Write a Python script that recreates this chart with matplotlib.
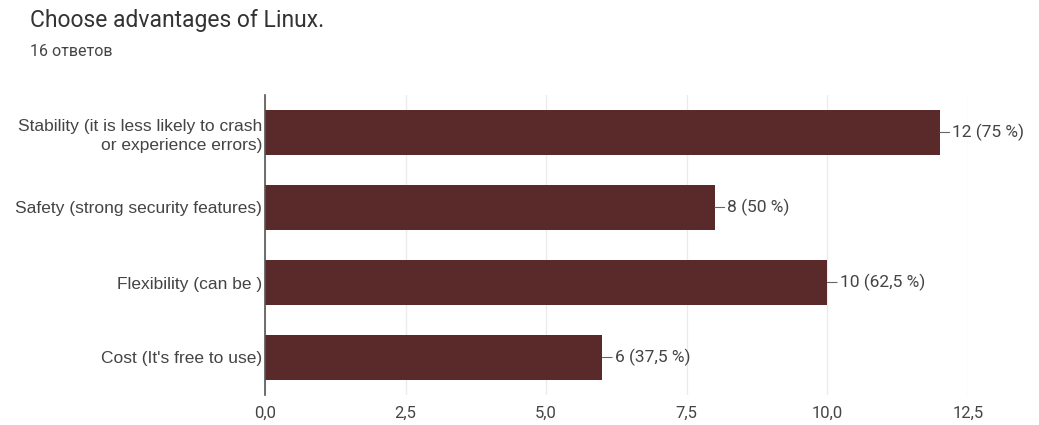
import matplotlib.pyplot as plt

# Data
categories = [
    "Stability (it is less likely to crash\nor experience errors)",
    "Safety (strong security features)",
    "Flexibility (can be )",
    "Cost (It's free to use)",
]
counts = [12, 8, 10, 6]
percents = ["75", "50", "62,5", "37,5"]
xticks = [0, 2.5, 5, 7.5, 10, 12.5]
xtick_labels = ["0,0", "2,5", "5,0", "7,5", "10,0", "12,5"]

plt.rcParams['font.family'] = ['Roboto', 'DejaVu Sans']

fig = plt.figure(figsize=(10.39, 4.25), dpi=100)
ax = fig.add_axes([265 / 1039, 1 - 395 / 425, (968 - 265) / 1039, (395 - 95) / 425])

bar_color = '#5a2a2a'
text_color = '#444444'

y = list(range(len(categories)))
ax.barh(y, counts, height=0.61, color=bar_color, zorder=3)

for i, (c, p) in enumerate(zip(counts, percents)):
    ax.annotate(f"{c} ({p} %)", xy=(c, i), xytext=(9, 0), textcoords='offset points',
                va='center', ha='left', fontsize=12.5, color=text_color,
                arrowprops=dict(arrowstyle='-', color='#666666', lw=0.8,
                                shrinkA=0, shrinkB=0))

ax.set_ylim(len(categories) - 0.5, -0.5)
ax.set_xlim(0, 12.5)
ax.set_yticks(y)
ax.set_yticklabels(categories, fontsize=12.5, color=text_color, ha='right',
                   multialignment='right', linespacing=1.35,
                   family=['Liberation Sans', 'DejaVu Sans'])
ax.set_xticks(xticks)
ax.set_xticklabels(xtick_labels, fontsize=12, color=text_color,
                   family=['Liberation Sans Narrow', 'Roboto', 'DejaVu Sans'])
ax.tick_params(axis='both', length=0, pad=2)
ax.tick_params(axis='x', pad=8)

ax.grid(axis='x', color='#ebebeb', lw=1, zorder=0)
for side in ['top', 'right', 'bottom']:
    ax.spines[side].set_visible(False)
ax.spines['left'].set_color('#555555')
ax.spines['left'].set_linewidth(1.2)
ax.spines['left'].set_zorder(4)

fig.text(30 / 1039, 1 - 20 / 425, "Choose advantages of Linux.", fontsize=16.5,
         color='#333333', va='center', ha='left')
fig.text(30 / 1039, 1 - 52 / 425, "16 ответов", fontsize=11.5,
         color='#444444', va='center', ha='left')

plt.savefig('out.png', dpi=100)
